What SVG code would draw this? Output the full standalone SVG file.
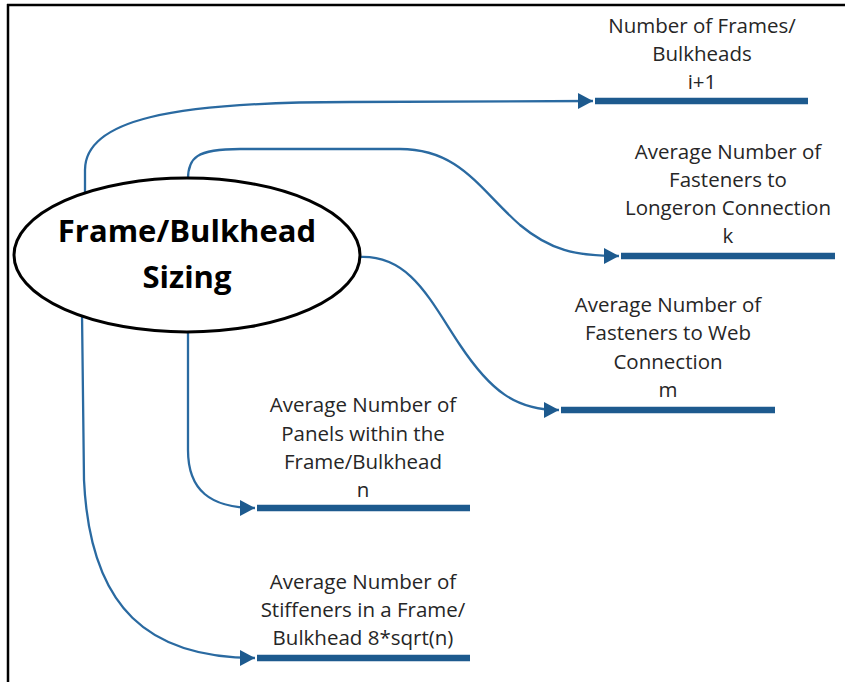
<svg xmlns="http://www.w3.org/2000/svg" width="845" height="682" viewBox="0 0 845 682">
  <defs>
    <style>
      .frame { stroke: #000; stroke-width: 2.5; fill: none; }
      .hub { fill: #fff; stroke: #000; stroke-width: 3; }
      .hub-text { font-family: "Open Sans", "Liberation Sans", sans-serif; font-weight: bold; font-size: 31px; fill: #000; text-anchor: middle; }
      .label { font-family: "Open Sans", "Liberation Sans", sans-serif; font-size: 20.5px; fill: #262626; text-anchor: middle; }
      .bar { stroke: #1d5a8e; stroke-width: 6.5; }
      .link { fill: none; stroke: #2a6aa1; stroke-width: 2.3; marker-end: url(#arrow); }
    </style>
    <marker id="arrow" markerUnits="userSpaceOnUse" markerWidth="18" markerHeight="18" refX="16" refY="9" orient="auto">
      <path d="M1,1 L16,9 L1,17 Z" fill="#1d5a8e"/>
    </marker>
  </defs>

  <rect width="845" height="682" fill="#fff"/>

  <!-- page frame: top and left rules only -->
  <path class="frame" d="M7,5 H845 M8,4 V682"/>

  <!-- connectors -->
  <g id="connectors">
    <path class="link" d="M85,193 L85,170 C85,120 170,102 350,102 L593,101"/>
    <path class="link" d="M188,179 C188,158 196,149 240,149 L400,149 C460,149 480,190 520,225 C550,250 575,256 619,256"/>
    <path class="link" d="M360,257 C410,255 430,300 460,345 C490,390 515,410 559,410"/>
    <path class="link" d="M188,332 L188,450 C188,490 210,508 255,508"/>
    <path class="link" d="M82,313 L84,480 C90,610 150,658 255,658"/>
  </g>

  <!-- central node -->
  <g id="hub">
    <ellipse class="hub" cx="187" cy="255" rx="173" ry="77"/>
    <text class="hub-text" x="187" y="242">Frame/Bulkhead</text>
    <text class="hub-text" x="187" y="288">Sizing</text>
  </g>

  <g id="frames-count">
    <line class="bar" x1="595" y1="101" x2="808" y2="101"/>
    <text class="label" x="702" y="33">Number of Frames/</text>
    <text class="label" x="702" y="61">Bulkheads</text>
    <text class="label" x="702" y="89">i+1</text>
  </g>

  <g id="longeron-fasteners">
    <line class="bar" x1="621" y1="256" x2="835" y2="256"/>
    <text class="label" x="728" y="159">Average Number of</text>
    <text class="label" x="728" y="187">Fasteners to</text>
    <text class="label" x="728" y="215">Longeron Connection</text>
    <text class="label" x="728" y="243">k</text>
  </g>

  <g id="web-fasteners">
    <line class="bar" x1="561" y1="410" x2="775" y2="410"/>
    <text class="label" x="668" y="312">Average Number of</text>
    <text class="label" x="668" y="340">Fasteners to Web</text>
    <text class="label" x="668" y="369">Connection</text>
    <text class="label" x="668" y="397">m</text>
  </g>

  <g id="panels">
    <line class="bar" x1="257" y1="508" x2="470" y2="508"/>
    <text class="label" x="363" y="412">Average Number of</text>
    <text class="label" x="363" y="441">Panels within the</text>
    <text class="label" x="363" y="469">Frame/Bulkhead</text>
    <text class="label" x="363" y="497">n</text>
  </g>

  <g id="stiffeners">
    <line class="bar" x1="257" y1="658" x2="470" y2="658"/>
    <text class="label" x="363" y="589">Average Number of</text>
    <text class="label" x="363" y="617">Stiffeners in a Frame/</text>
    <text class="label" x="363" y="645">Bulkhead 8*sqrt(n)</text>
  </g>
</svg>
